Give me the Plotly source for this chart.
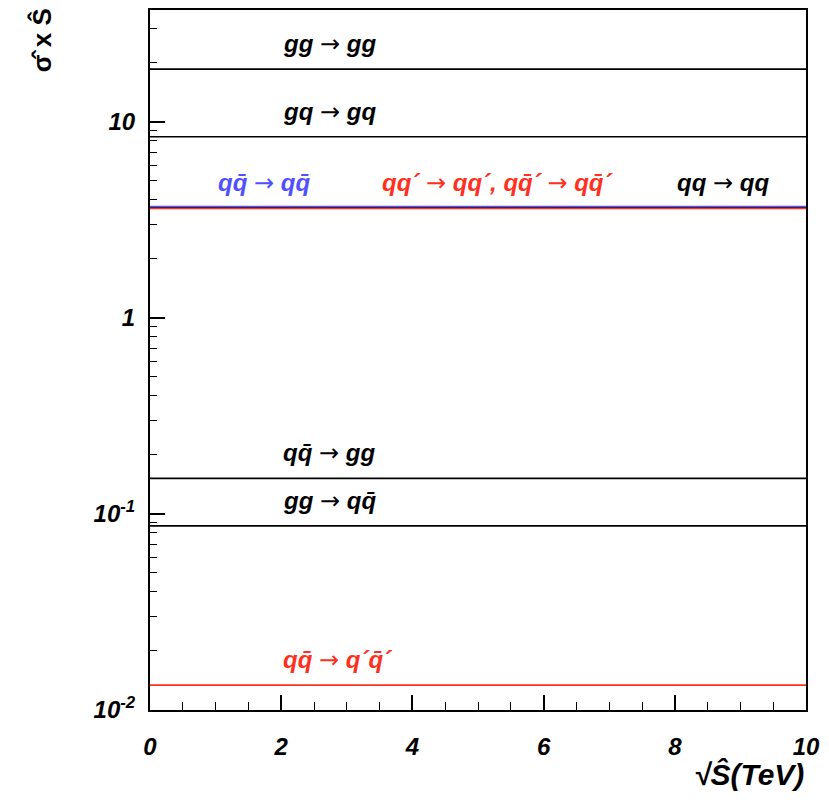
import numpy as np
import plotly.graph_objects as go

# Data
x_range = [0, 10]
processes = ["gg → gg", "gq → gq", "qq → qq", "qq̄ → qq̄", "qq´ → qq´", "qq̄ → gg", "gg → qq̄", "qq̄ → q´q̄´"]
values = [18.6, 8.4, 3.66, 3.70, 3.62, 0.152, 0.087, 0.0134]
colors = ["black", "black", "black", "#5050ff", "#ff3020", "black", "black", "#ff3020"]

labels = [
    "gg → gg",
    "gq → gq",
    "qq → qq",
    "qq\u0304 → qq\u0304",
    "qq´ → qq´, qq\u0304´ → qq\u0304´",
    "qq\u0304 → gg",
    "gg → qq\u0304",
    "qq\u0304 → q´q\u0304´",
]
label_x = [2.0, 2.0, 8.0, 1.0, 3.5, 2.0, 2.0, 2.0]
label_value = [18.6, 8.4, 3.66, 3.66, 3.66, 0.152, 0.087, 0.0134]
label_colors = ["black", "black", "black", "#5050ff", "#ff3020", "black", "black", "#ff3020"]

y_tickvals = [0.01, 0.1, 1, 10]
y_ticktext = ["10<sup>-2</sup>", "10<sup>-1</sup>", "1", "10"]
x_tickvals = [0, 2, 4, 6, 8, 10]

FONT = "Liberation Sans, Arial"
ARROW = "<span style='font-family:DejaVu Sans;font-weight:normal;font-style:normal'>→</span>"

fig = go.Figure()
for name, v, c in zip(processes, values, colors):
    fig.add_trace(go.Scatter(x=x_range, y=[v, v], mode="lines", name=name,
                             line=dict(color=c, width=1.6), showlegend=False,
                             hoverinfo="skip"))

for t, xx, v, c in zip(labels, label_x, label_value, label_colors):
    t_html = t.replace("→", ARROW)
    fig.add_annotation(x=xx, y=np.log10(v), text="<b><i>" + t_html + "</i></b>",
                       showarrow=False, xanchor="left", yanchor="middle", yshift=25,
                       font=dict(size=24, color=c, family=FONT))

minor_y = [m * 10.0 ** e for e in range(-2, 2) for m in range(2, 10)]

fig.update_xaxes(range=[0, 10], tickvals=x_tickvals,
                 ticks="inside", ticklen=15, tickwidth=1.5, tickcolor="black",
                 minor=dict(ticks="inside", ticklen=8, tickwidth=1.2, dtick=0.5, tickcolor="black", showgrid=False),
                 showline=True, linecolor="black", linewidth=2, mirror=True,
                 showgrid=False, zeroline=False, ticklabelstandoff=14,
                 tickfont=dict(size=24, color="black", family=FONT, weight="bold", style="italic"))
fig.update_yaxes(type="log", range=[-2, 1.571], tickvals=y_tickvals, ticktext=y_ticktext,
                 ticks="inside", ticklen=15, tickwidth=1.5, tickcolor="black",
                 minor=dict(ticks="inside", ticklen=7, tickwidth=1.2, tickvals=minor_y, tickcolor="black", showgrid=False),
                 showline=True, linecolor="black", linewidth=2, mirror=True,
                 showgrid=False, zeroline=False, ticklabelstandoff=8,
                 tickfont=dict(size=24, color="black", family=FONT, weight="bold", style="italic"))

fig.add_annotation(xref="paper", yref="paper", x=1.0, y=-0.065, xanchor="right", yanchor="top",
                   text="<b><i>√Ŝ(TeV)</i></b>", showarrow=False,
                   font=dict(size=30, color="black", family=FONT))
fig.add_annotation(xref="paper", yref="paper", x=-0.165, y=1.005, xanchor="center", yanchor="top",
                   text="<b>σ\u0302 x Ŝ</b>", showarrow=False, textangle=-90,
                   font=dict(size=26, color="black", family=FONT))

# page body has an 8px offset; compensate so the plot area lands at x 150-806, y 8-710
fig.update_layout(width=821, height=802, plot_bgcolor="white", paper_bgcolor="white",
                  margin=dict(l=142, r=23, t=0, b=100))
fig.write_html("out.html")
